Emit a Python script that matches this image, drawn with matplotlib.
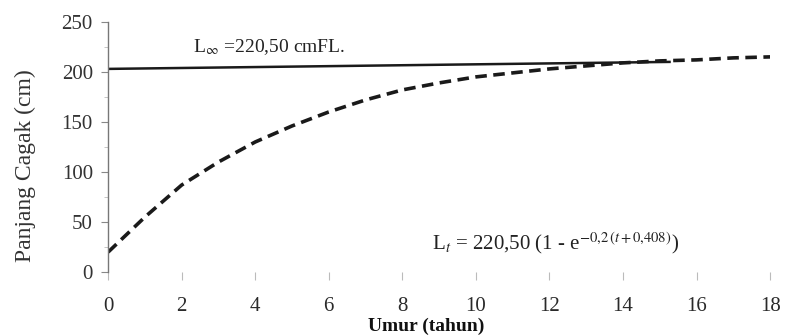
import matplotlib
matplotlib.use("Agg")
import matplotlib.pyplot as plt
from matplotlib.ticker import MultipleLocator

plt.rcParams["font.family"] = ["Liberation Serif", "DejaVu Serif"]
plt.rcParams["mathtext.fontset"] = "stix"

# umur (tahun) and panjang cagak (cm)
umur = [0, 1, 2, 3, 4, 5, 6, 7, 8, 9, 10, 11, 12, 13, 14, 15, 16, 17, 18]
panjang = [20, 55, 87, 110, 130, 146, 160, 172, 182, 189, 195, 199, 203,
           206, 209, 211, 212, 214, 215]

# asymptote line L-infinity (slightly skewed in the scan)
linf_x = [0, 15.3]
linf_y = [203, 210]

xticks = [0, 2, 4, 6, 8, 10, 12, 14, 16, 18]
yticks = [0, 50, 100, 150, 200, 250]

fig = plt.figure(figsize=(7.89, 3.36), dpi=100)
ax = fig.add_axes([0.137, 0.19, 0.839, 0.745])

ax.plot(linf_x, linf_y, color="#1a1a1a", lw=1.8, solid_capstyle="butt")
ax.plot(umur, panjang, color="#1a1a1a", lw=2.6, dashes=(3.2, 1.8))

ax.set_xlim(0, 18)
ax.set_ylim(0, 250)
ax.set_xticks(xticks)
ax.set_yticks(yticks)
ax.yaxis.set_minor_locator(MultipleLocator(25))

for s in ("top", "right", "bottom"):
    ax.spines[s].set_visible(False)
ax.spines["left"].set_color("#777777")
ax.spines["left"].set_linewidth(1.0)

ax.tick_params(axis="x", length=6, width=0.8, color="#bbbbbb", pad=12,
               labelsize=15, labelcolor="#2a2a2a")
ax.tick_params(axis="y", which="major", length=5, width=0.8, color="#888888",
               pad=6, labelsize=15, labelcolor="#333333")
ax.tick_params(axis="y", which="minor", length=3, width=0.6, color="#bbbbbb")

ax.set_ylabel("Panjang Cagak (cm)", fontsize=17, color="#333333")
ax.yaxis.label.set_va("center")
ax.yaxis.set_label_coords(-0.125, 0.424)
ax.set_xlabel("Umur (tahun)", fontsize=14, color="#111111", fontweight="bold")
ax.xaxis.label.set_va("center")
ax.xaxis.set_label_coords(0.48, -0.216)

ax.text(2.3, 225, "L$_{\\infty}$ =220,50 cmFL.", fontsize=14, color="#222222",
        ha="left", va="center")
ax.text(8.8, 29,
        "L$_{t}$ = 220,50 (1 - e$^{-0{,}2\\,(t+0{,}408)}$)",
        fontsize=15, color="#222222", ha="left", va="center")

fig.savefig("out.png", dpi=100)
